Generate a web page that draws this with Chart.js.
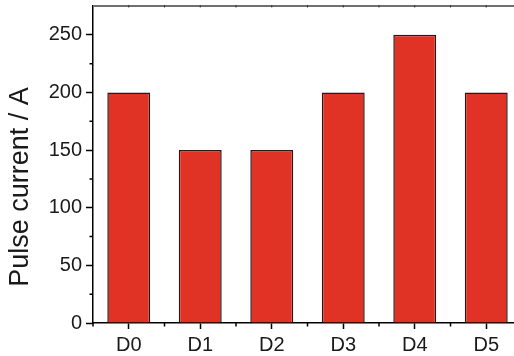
<!DOCTYPE html>
<html>
<head>
<meta charset="utf-8">
<script src="https://cdn.jsdelivr.net/npm/chart.js@4"></script>
<style>
  html, body { margin: 0; padding: 0; background: #fff; overflow: hidden; }
  #wrap { width: 524px; height: 356px; }
</style>
</head>
<body>
<div id="wrap"><canvas id="bars" width="524" height="356"></canvas></div>
<script>
// data
const categories = ['D0', 'D1', 'D2', 'D3', 'D4', 'D5'];
const pulseCurrent = [200, 150, 150, 200, 250, 200];
const yMajorTicks = [0, 50, 100, 150, 200, 250];
const yMinorTicks = [25, 75, 125, 175, 225];

// colors / fonts
const barRed    = '#E03326';
const barEdge   = '#2a1614';
const axisBlack = '#000000';
const topGray   = '#707070';
const textColor = '#1a1a1a';
const labelFont = 'Liberation Sans, Arial, sans-serif';

// minor ticks + the grey top frame line
const frameTicks = {
    id: 'frameTicks',
    afterDraw(chart) {
        const {ctx, chartArea: a, scales: {x, y}} = chart;
        const half = (x.getPixelForValue(1) - x.getPixelForValue(0)) / 2;
        ctx.save();
        ctx.strokeStyle = axisBlack;
        ctx.lineWidth = 1.5;
        ctx.beginPath();
        yMinorTicks.forEach(v => {
            const py = y.getPixelForValue(v);
            ctx.moveTo(a.left - 3.5, py);
            ctx.lineTo(a.left, py);
        });
        categories.forEach((c, i) => {
            const px = x.getPixelForValue(i) - half;
            ctx.moveTo(px, a.bottom);
            ctx.lineTo(px, a.bottom + 3.5);
        });
        ctx.stroke();

        ctx.strokeStyle = topGray;
        ctx.lineWidth = 1.8;
        ctx.beginPath();
        ctx.moveTo(a.left, a.top);
        ctx.lineTo(a.right, a.top);
        ctx.stroke();
        ctx.strokeStyle = '#333';
        ctx.lineWidth = 1;
        ctx.beginPath();
        categories.forEach((c, i) => {
            const px = x.getPixelForValue(i);
            ctx.moveTo(px, a.top - 1);
            ctx.lineTo(px, a.top + 1.5);
            ctx.moveTo(px + half, a.top - 1);
            ctx.lineTo(px + half, a.top + 1.5);
        });
        ctx.stroke();
        ctx.restore();
    }
};

new Chart(document.getElementById('bars').getContext('2d'), {
    type: 'bar',
    plugins: [frameTicks],
    data: {
        labels: categories,
        datasets: [{
            data: pulseCurrent,
            backgroundColor: barRed,
            borderColor: barEdge,
            borderWidth: 1.5,
            barPercentage: 0.6,
            categoryPercentage: 1.0
        }]
    },
    options: {
        responsive: false,
        animation: false,
        layout: { padding: { top: 6, right: 2, left: 0, bottom: 0 } },
        plugins: {
            legend: { display: false },
            tooltip: { enabled: false }
        },
        scales: {
            x: {
                afterFit: s => {
                    s.height = 33;
                    s.paddingLeft = 0;
                    s.paddingRight = 0;
                },
                grid: {
                    drawOnChartArea: false,
                    offset: false,
                    tickLength: 6,
                    tickColor: axisBlack,
                    tickWidth: 1.5
                },
                border: { color: axisBlack, width: 1.5 },
                ticks: {
                    color: textColor,
                    padding: 4,
                    font: { family: labelFont, size: 20 }
                }
            },
            y: {
                min: 0,
                max: 275,
                afterFit: s => {
                    s.width = 93;
                    s.paddingTop = 0;
                    s.paddingBottom = 0;
                },
                afterBuildTicks: s => {
                    s.ticks = yMajorTicks.map(v => ({ value: v }));
                },
                grid: {
                    drawOnChartArea: false,
                    tickLength: 7,
                    tickColor: axisBlack,
                    tickWidth: 1.5
                },
                border: { color: axisBlack, width: 1.5 },
                ticks: {
                    color: textColor,
                    padding: 4,
                    font: { family: labelFont, size: 20 }
                },
                title: {
                    display: true,
                    text: 'Pulse current / A' + '\u00a0'.repeat(6),
                    color: textColor,
                    padding: { top: 4, bottom: 0 },
                    font: { family: labelFont, size: 27 }
                }
            }
        }
    }
});
</script>
</body>
</html>
